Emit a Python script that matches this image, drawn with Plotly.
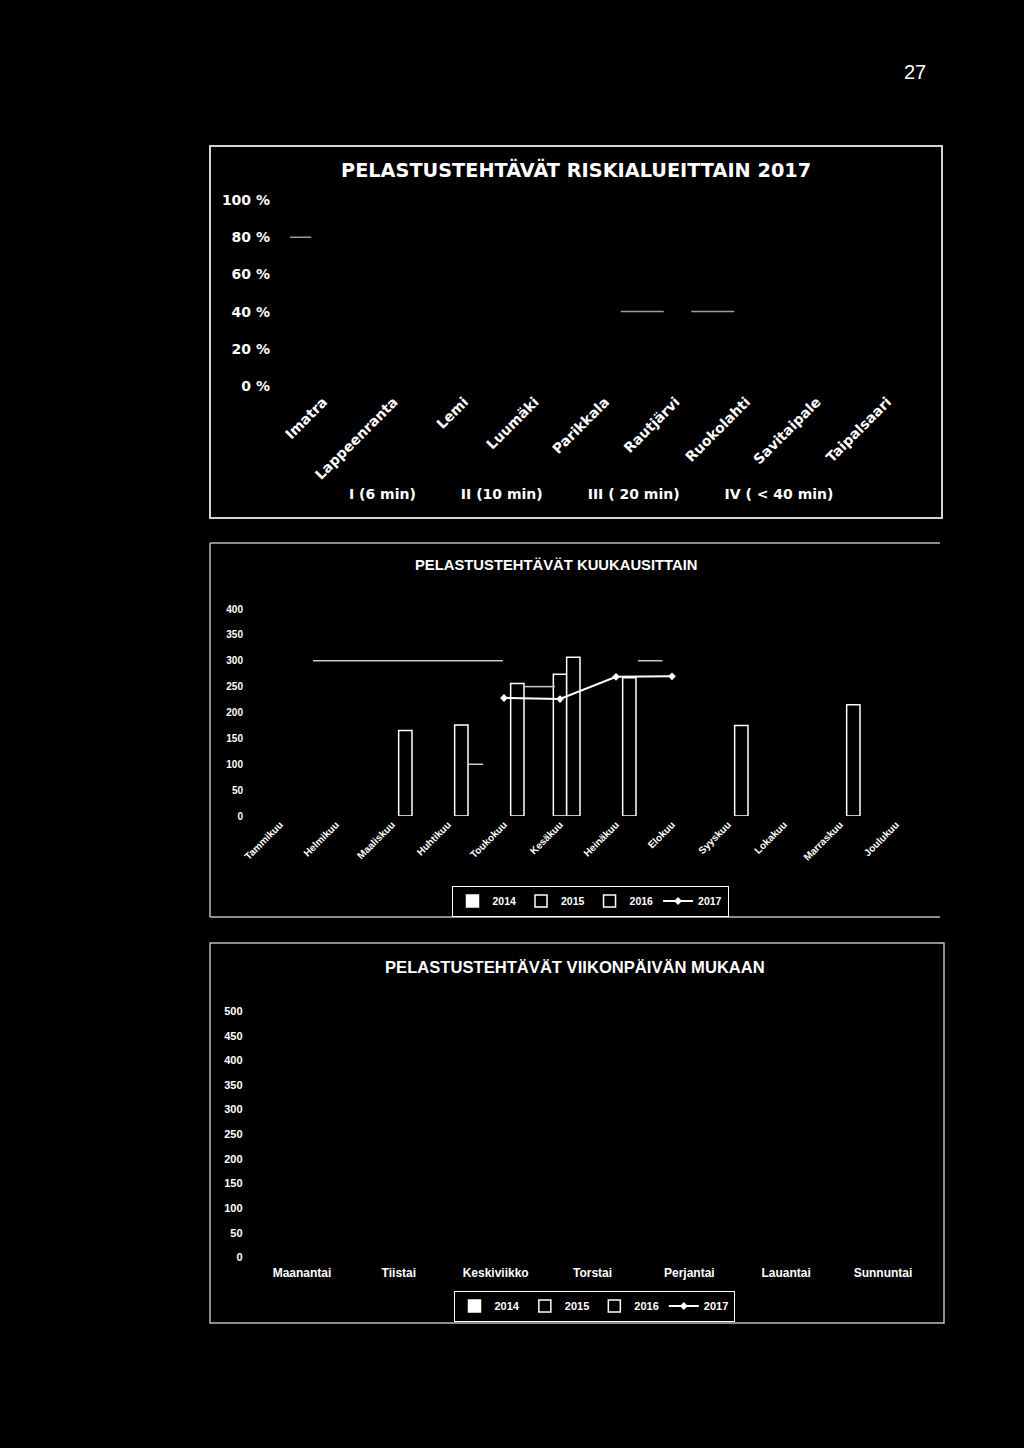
import plotly.graph_objects as go

W, H = 1024, 1448

# --- chart 1: PELASTUSTEHTÄVÄT RISKIALUEITTAIN 2017 (100 % stacked columns) ---
alueet = ["Imatra", "Lappeenranta", "Lemi", "Luumäki", "Parikkala",
          "Rautjärvi", "Ruokolahti", "Savitaipale", "Taipalsaari"]
riskialueet = ["I (6 min)", "II (10 min)", "III ( 20 min)", "IV ( < 40 min)"]
# columns are black on black in the scan, no share can be read
osuus_I = [None, None, None, None, None, None, None, None, None]
osuus_II = [None, None, None, None, None, None, None, None, None]
osuus_III = [None, None, None, None, None, None, None, None, None]
osuus_IV = [None, None, None, None, None, None, None, None, None]
pros_tikit = [0, 0.2, 0.4, 0.6, 0.8, 1.0]
pros_tekstit = ["0 %", "20 %", "40 %", "60 %", "80 %", "100 %"]

# --- chart 2: PELASTUSTEHTÄVÄT KUUKAUSITTAIN ---
kuukaudet = ["Tammikuu", "Helmikuu", "Maaliskuu", "Huhtikuu", "Toukokuu", "Kesäkuu",
             "Heinäkuu", "Elokuu", "Syyskuu", "Lokakuu", "Marraskuu", "Joulukuu"]
kk_2014 = [None, None, None, None, None, None, None, None, None, None, None, None]
kk_2015 = [None, None, None, None, None, 274, None, None, None, None, None, None]
kk_2016 = [None, None, 165, 176, 256, 307, 267, None, 175, None, 215, None]
kk_2017 = [None, None, None, None, 228, 226, 269, 270, None, None, None, None]

# --- chart 3: PELASTUSTEHTÄVÄT VIIKONPÄIVÄN MUKAAN ---
paivat = ["Maanantai", "Tiistai", "Keskiviikko", "Torstai", "Perjantai", "Lauantai", "Sunnuntai"]
vp_2014 = [None, None, None, None, None, None, None]
vp_2015 = [None, None, None, None, None, None, None]
vp_2016 = [None, None, None, None, None, None, None]
vp_2017 = [None, None, None, None, None, None, None]

vuodet = ["2014", "2015", "2016", "2017"]

# bits of gridline that show through in the scan: (y, x from, x to)
grid_bits_1 = [(0.8, -0.47, -0.17), (0.4, 4.22, 4.83), (0.4, 5.22, 5.83)]
grid_bits_2 = [(300, 0.59, 3.98), (250, 4.37, 4.91), (100, 3.36, 3.63), (300, 6.39, 6.83)]


def fx(px):
    return px / W


def fy(py):
    return 1 - py / H


calibri = "DejaVu Sans"
arial = "Liberation Sans"

fig = go.Figure()

for nimi, arvot in zip(riskialueet, [osuus_I, osuus_II, osuus_III, osuus_IV]):
    fig.add_trace(go.Bar(x=alueet, y=arvot, name=nimi, xaxis="x", yaxis="y", legend="legend",
                         marker=dict(color="black", line=dict(color="black", width=0))))


def vuosisarjat(kategoriat, sarjat, ax, leg):
    offs = [-0.357, -0.119, 0.119]
    for i, (vuosi, arvot) in enumerate(zip(vuodet[:3], sarjat[:3])):
        fill = "white" if i == 0 else "black"
        fig.add_trace(go.Bar(x=kategoriat, y=arvot, name=vuosi, xaxis="x" + ax, yaxis="y" + ax,
                             legend=leg, offset=offs[i], width=0.238,
                             marker=dict(color=fill, line=dict(color="white", width=1.5))))
    fig.add_trace(go.Scatter(x=kategoriat, y=sarjat[3], name=vuodet[3], xaxis="x" + ax, yaxis="y" + ax,
                             legend=leg, mode="lines+markers",
                             line=dict(color="white", width=2),
                             marker=dict(symbol="diamond", size=6, color="white")))


vuosisarjat(kuukaudet, [kk_2014, kk_2015, kk_2016, kk_2017], "2", "legend2")
vuosisarjat(paivat, [vp_2014, vp_2015, vp_2016, vp_2017], "3", "legend3")

shapes = []
for y, a, b in grid_bits_1:
    shapes.append(dict(type="line", xref="x", yref="y", x0=a, x1=b, y0=y, y1=y,
                       line=dict(color="#9c9c9c", width=1.5)))
for y, a, b in grid_bits_2:
    shapes.append(dict(type="line", xref="x2", yref="y2", x0=a, x1=b, y0=y, y1=y,
                       line=dict(color="#c8c8c8", width=1.5)))

# chart frames
shapes.append(dict(type="rect", xref="paper", yref="paper", x0=fx(210), x1=fx(942),
                   y0=fy(518), y1=fy(146), line=dict(color="#d4d4d4", width=2)))
for x0, y0, x1, y1 in [(210, 543, 940, 543), (210, 543, 210, 917), (210, 917, 940, 917)]:
    shapes.append(dict(type="line", xref="paper", yref="paper", x0=fx(x0), x1=fx(x1),
                       y0=fy(y0), y1=fy(y1), line=dict(color="#bdbdbd", width=1.5)))
shapes.append(dict(type="rect", xref="paper", yref="paper", x0=fx(210), x1=fx(944),
                   y0=fy(1323), y1=fy(943), line=dict(color="#bdbdbd", width=1.5)))

annotations = [
    dict(text="27", x=fx(915), y=fy(72), font=dict(family=arial, size=20, color="white")),
    dict(text="PELASTUSTEHTÄVÄT RISKIALUEITTAIN 2017", x=fx(576), y=fy(170),
         font=dict(family=calibri, size=19.3, color="white", weight="bold")),
    dict(text="PELASTUSTEHTÄVÄT KUUKAUSITTAIN", x=fx(556), y=fy(565),
         font=dict(family=arial, size=14.8, color="white", weight="bold")),
    dict(text="PELASTUSTEHTÄVÄT VIIKONPÄIVÄN MUKAAN", x=fx(575), y=fy(968),
         font=dict(family=arial, size=16.6, color="white", weight="bold")),
]
for a in annotations:
    a.update(xref="paper", yref="paper", showarrow=False, xanchor="center", yanchor="middle")


def akseli(**kw):
    d = dict(showgrid=False, zeroline=False, showline=False, ticks="", color="white")
    d.update(kw)
    return d


fnt1 = dict(family=calibri, size=14, color="white", weight="bold")
fnt1x = dict(family=calibri, size=14, color="white", weight="bold")
fnt2 = dict(family=arial, size=10, color="white", weight="bold")
fnt2l = dict(family=arial, size=10.5, color="white", weight="bold")
fnt3 = dict(family=arial, size=12, color="white", weight="bold")
fnt3y = dict(family=arial, size=11, color="white", weight="bold")

fig.update_layout(
    width=W, height=H,
    margin=dict(l=0, r=0, t=0, b=0, pad=0, autoexpand=False),
    paper_bgcolor="black", plot_bgcolor="black",
    barmode="group", showlegend=True,
    shapes=shapes, annotations=annotations,
    xaxis=akseli(domain=[fx(288), fx(922.5)], anchor="y", type="category",
                 categoryorder="array", categoryarray=alueet, range=[-0.5, 8.5],
                 tickangle=-45, tickfont=fnt1x, ticklabelstandoff=4),
    yaxis=akseli(domain=[fy(386), fy(200)], anchor="x", range=[0, 1],
                 tickvals=pros_tikit, ticktext=pros_tekstit, tickfont=fnt1, ticklabelstandoff=17),
    xaxis2=akseli(domain=[fx(252), fx(924)], anchor="y2", type="category",
                  categoryorder="array", categoryarray=kuukaudet, range=[-0.5, 11.5],
                  tickangle=-45, tickfont=fnt2),
    yaxis2=akseli(domain=[fy(816), fy(609)], anchor="x2", range=[0, 400], dtick=50,
                  tickfont=fnt2, ticklabelstandoff=8),
    xaxis3=akseli(domain=[fx(253.6), fx(931.4)], anchor="y3", type="category",
                  categoryorder="array", categoryarray=paivat, range=[-0.5, 6.5],
                  tickangle=0, tickfont=fnt3, ticklabelstandoff=6),
    yaxis3=akseli(domain=[fy(1257.5), fy(1011)], anchor="x3", range=[0, 500], dtick=50,
                  tickfont=fnt3y, ticklabelstandoff=10),
    legend=dict(orientation="h", x=fx(574), y=fy(494), xanchor="center", yanchor="middle",
                font=fnt1x, bgcolor="rgba(0,0,0,0)", itemwidth=30, traceorder="normal"),
    legend2=dict(orientation="h", x=fx(590), y=fy(901), xanchor="center", yanchor="middle",
                 font=fnt2l, bgcolor="black", bordercolor="white", borderwidth=1,
                 itemwidth=30, traceorder="normal"),
    legend3=dict(orientation="h", x=fx(594), y=fy(1306), xanchor="center", yanchor="middle",
                 font=fnt3y, bgcolor="black", bordercolor="white", borderwidth=1,
                 itemwidth=30, traceorder="normal"),
)

# the page itself is black to the edges
fig.write_html("out.html", config={"displayModeBar": False},
               post_script="document.body.style.margin='0';document.body.style.background='black';")
